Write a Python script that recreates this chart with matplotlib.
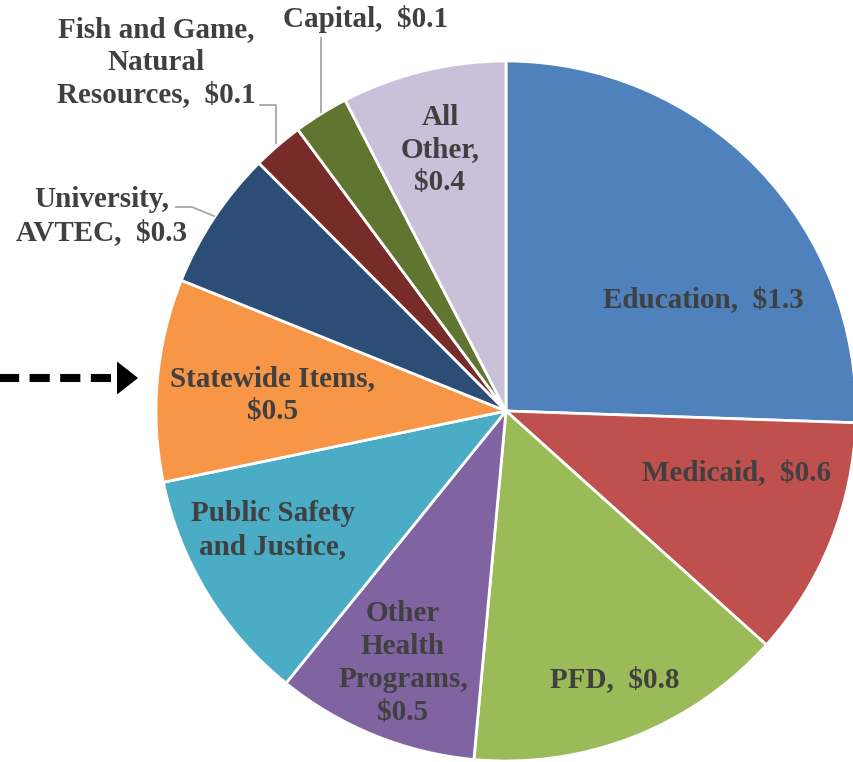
import matplotlib.pyplot as plt

# state spending by category, $ billions
categories = ['Education', 'Medicaid', 'PFD', 'Other Health Programs',
              'Public Safety and Justice', 'Statewide Items', 'University, AVTEC',
              'Fish and Game, Natural Resources', 'Capital', 'All Other']
values = [1.31, 0.57, 0.76, 0.48, 0.56, 0.48, 0.33, 0.12, 0.13, 0.39]
labels = ['Education,  $1.3', 'Medicaid,  $0.6', 'PFD,  $0.8',
          'Other\nHealth\nPrograms,\n$0.5', 'Public Safety\nand Justice,',
          'Statewide Items,\n$0.5', 'University,\nAVTEC,  $0.3',
          'Fish and Game,\nNatural\nResources,  $0.1', 'Capital,  $0.1',
          'All\nOther,\n$0.4']
colors = ['#4F81BD', '#C0504D', '#9BBB59', '#8064A2', '#4BACC6',
          '#F79646', '#2C4D75', '#772C2A', '#5F7530', '#CBC0DA']

W, H = 854, 762
fig = plt.figure(figsize=(W / 100, H / 100), dpi=100)
ax = fig.add_axes([0, 0, 1, 1])

cx, cy, r = 506, H - 411, 350
ax.pie(values, colors=colors, startangle=90, counterclock=False,
       center=(cx, cy), radius=r, frame=True,
       wedgeprops=dict(edgecolor='white', linewidth=2))
ax.set_xlim(0, W)
ax.set_ylim(0, H)
ax.set_aspect('equal')
ax.axis('off')

# label positions in pixels (x, y from top)
pos = [(703, 300), (737, 473), (615, 680), (403, 663), (273, 530),
       (273, 395), (102, 216), (156, 62), (366, 19), (440, 150)]
tc = '#404040'
for lab, (x, y) in zip(labels, pos):
    ax.text(x, H - y, lab, ha='center', va='center', fontsize=21,
            family='Liberation Serif', fontweight='bold', color=tc,
            linespacing=1.27)

# leader lines for the small outside labels
lc = '#A6A6A6'
ax.plot([176, 192, 214], [H - 207, H - 207, H - 216], color=lc, lw=1.3)
ax.plot([260, 276, 276], [H - 105, H - 105, H - 143], color=lc, lw=1.3)
ax.plot([321, 321], [H - 38, H - 112], color=lc, lw=1.3)

# dashed arrow pointing at Statewide Items
ay = H - 378
ax.plot([-8, 118], [ay, ay], color='black', lw=5.8, linestyle=(0, (2.5, 1.3)),
        dash_capstyle='butt', solid_capstyle='butt')
ax.arrow(117, ay, 0.01, 0, width=0.1, head_width=33, head_length=21,
         length_includes_head=False, color='black', lw=0)

fig.savefig('out.png', dpi=100)
